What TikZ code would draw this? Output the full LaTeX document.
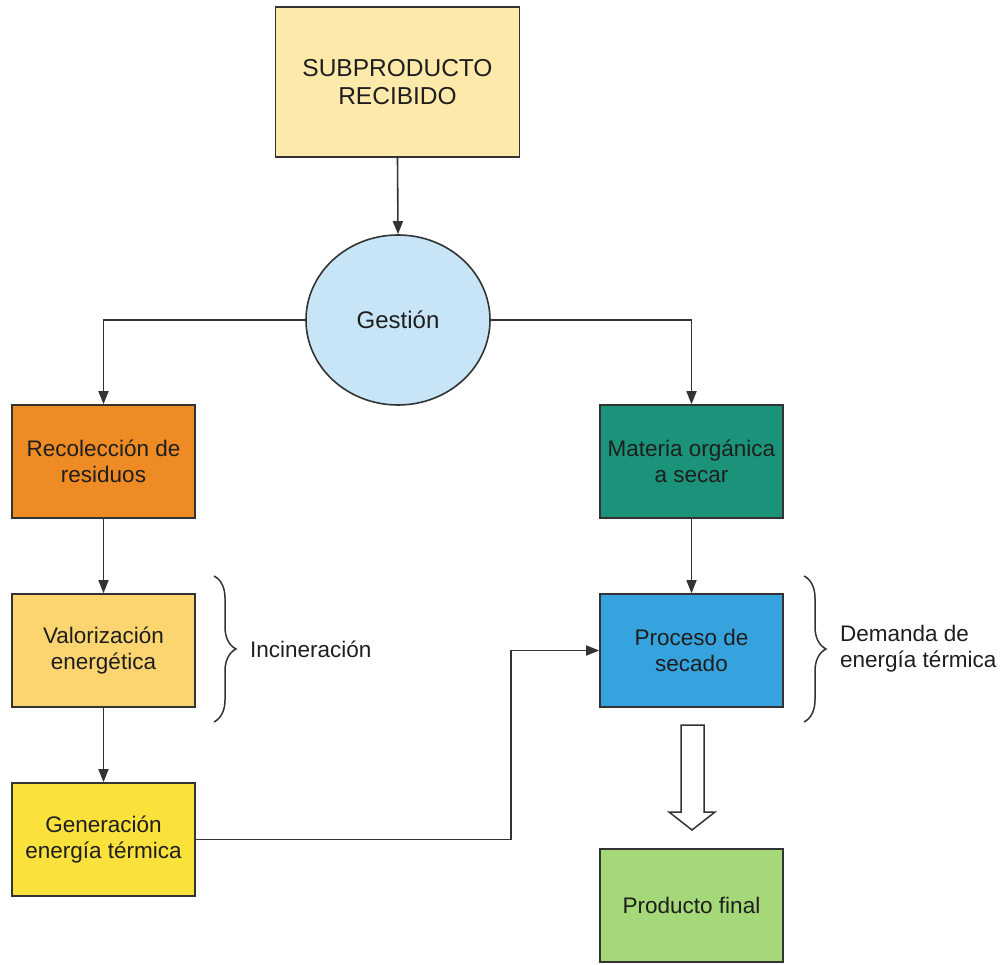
\documentclass[tikz,border=0pt]{standalone}
\usepackage{fontspec}
\setmainfont{Liberation Sans}
\usetikzlibrary{arrows.meta,shapes.geometric,decorations.pathreplacing}

\definecolor{inkline}{HTML}{333333}
\definecolor{inktext}{HTML}{1E1E1E}
\definecolor{cSub}{HTML}{FDE9A9}
\definecolor{cGest}{HTML}{C7E5F6}
\definecolor{cRec}{HTML}{EF8B24}
\definecolor{cMat}{HTML}{1A937A}
\definecolor{cVal}{HTML}{FCD571}
\definecolor{cProc}{HTML}{37A3DE}
\definecolor{cGen}{HTML}{FAE13B}
\definecolor{cProd}{HTML}{A4D878}

\tikzset{
  box/.style={draw=inkline, line width=1.6pt, minimum width=183pt, minimum height=113pt,
    align=center, text=inktext, font=\fontsize{22.5}{26}\selectfont, inner sep=0pt},
  link/.style={draw=inkline, line width=1.6pt},
  arr/.style={link, -{Triangle[width=10pt,length=13pt]}},
  bracestyle/.style={draw=inkline, line width=1.5pt,
    decorate, decoration={brace, amplitude=22pt, aspect=0.5}},
  note/.style={anchor=west, align=left, text=inktext, font=\fontsize{22.5}{26}\selectfont, inner sep=0pt}
}

\begin{document}
\begin{tikzpicture}[x=1pt, y=-1pt]
  \useasboundingbox (0,0) rectangle (1005,965);

  % process blocks
  \node[box, fill=cSub, minimum width=244pt, minimum height=150pt,
        font=\fontsize{24.5}{28}\selectfont] (sub) at (397.5,82) {SUBPRODUCTO\\RECIBIDO};
  \node[draw=inkline, line width=1.6pt, ellipse, fill=cGest, minimum width=184pt,
        minimum height=170pt, inner sep=0pt, text=inktext,
        font=\fontsize{24}{28}\selectfont] (gest) at (398,320) {Gestión};
  \node[box, fill=cRec] (rec) at (103.5,461.5) {Recolección de\\residuos};
  \node[box, fill=cMat] (mat) at (691.5,461.5) {Materia orgánica\\a secar};
  \node[box, fill=cVal] (val) at (103.5,650.5) {Valorización\\energética};
  \node[box, fill=cProc] (proc) at (691.5,650.5) {Proceso de\\secado};
  \node[box, fill=cGen] (gen) at (103.5,839.5) {Generación\\energía térmica};
  \node[box, fill=cProd] (prod) at (691.5,905.5) {Producto final};

  % connectors
  \draw[arr] (sub.south) -- (gest.north);
  \draw[arr] (gest.west) -| (rec.north);
  \draw[arr] (gest.east) -| (mat.north);
  \draw[arr] (rec.south) -- (val.north);
  \draw[arr] (val.south) -- (gen.north);
  \draw[arr] (mat.south) -- (proc.north);
  \coordinate (heatbend) at (511,839.5);
  \draw[arr] (gen.east) -- (heatbend) |- (proc.west);

  % hollow block arrow to the final product
  \coordinate (hollowtip) at (692,830);
  \draw[draw=inkline, line width=1.5pt, fill=white, line join=miter]
    (681,725) -- (704,725) -- (704,812) -- (715,812) -- (hollowtip)
    -- (669,812) -- (681,812) -- cycle;

  % braces and their notes
  \coordinate (bl1) at (214,576);
  \coordinate (bl2) at (214,722);
  \draw[bracestyle] (bl1) -- (bl2);
  \node[note] (inc) at (250,649) {Incineración};

  \coordinate (br1) at (804,576);
  \coordinate (br2) at (804,722);
  \draw[bracestyle] (br1) -- (br2);
  \node[note] (dem) at (840,649) {Demanda de\\energía térmica};
\end{tikzpicture}
\end{document}
